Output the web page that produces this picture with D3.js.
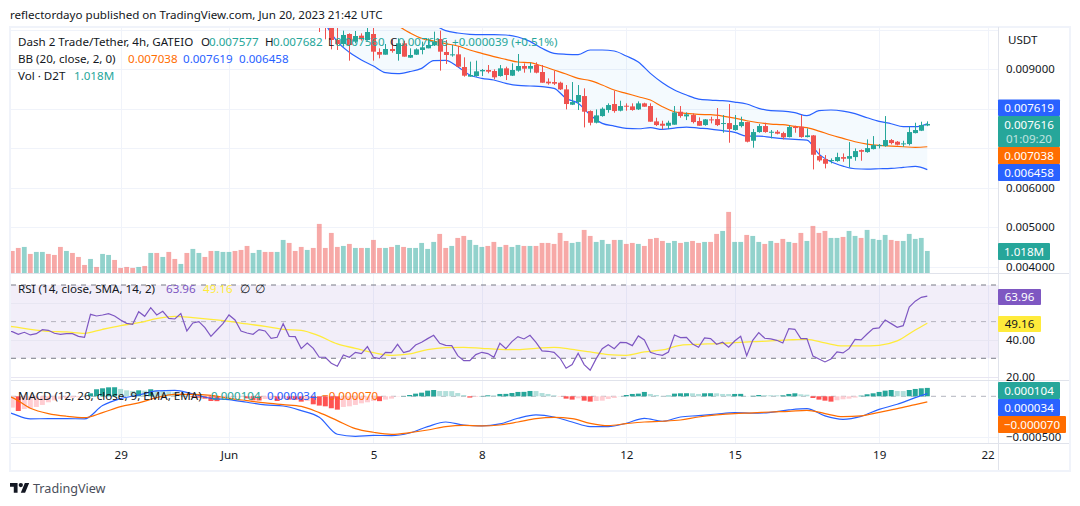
<!DOCTYPE html>
<html>
<head>
<meta charset="utf-8">
<script src="https://d3js.org/d3.v7.min.js"></script>
<style>
    html, body {margin: 0; padding: 0; background: #fff;}
    svg {display: block;}
    text {font-family: "Noto Sans", sans-serif; font-size: 11.6px; fill: #131722;}
</style>
</head>
<body>
<div id="chart-area"></div>
<script>
// prices are in millionths of USDT, volume in millions
let candleStart = 51;
let candleOpen = [10350,10300,10120,9743,9642,9895,9701,9853,9743,9895,9439,9371,9515,9388,9659,9295,9371,9490,9532,9608,
    9768,9439,9354,9380,9059,8814,8830,8949,8983,8957,8830,9025,8839,8966,9084,9016,9109,8932,8687,8678,
    8661,8492,8104,8171,8323,7943,7647,7816,7969,8121,7952,8078,8061,7985,8138,8070,7681,
    7622,7571,7597,7926,7808,7842,7690,7588,7732,7740,7622,7639,7462,7563,7664,7191,7411,7563,7394,7419,7385,7284,7546,7546,7284,
    7326,6802,6726,6676,6676,6777,6735,6777,6954,6904,6980,7064,7056,7208,7166,7107,7107,7385,7445,7577];
let candleHigh = [10450,10400,10200,10100,9980,9912,9971,9912,10064,10064,9532,9642,9743,9785,9726,9532,9532,9701,9785,9954,
    9980,9743,9616,9591,9304,9194,9219,9008,9109,9000,9109,9067,9152,9388,9152,9168,9177,9109,8771,8966,
    8687,8602,8678,8602,8518,7960,7985,8036,8138,8459,8205,8138,8138,8188,8154,8138,7774,
    7698,7698,8070,8070,7909,7884,7783,7740,7800,8019,7842,8121,7842,7800,7673,7487,7614,7647,7462,7462,7419,7588,7571,7842,7504,
    7335,6997,6828,6743,6887,6870,7157,6997,6971,7225,7309,7107,7816,7233,7183,7191,7546,7647,7673,7682];
let candleLow = [9946,9760,9506,9490,9574,9219,9659,9726,9726,9219,9278,9371,9422,9219,9321,9287,9363,9380,9532,9591,
    8966,9135,9321,9050,8814,8814,8814,8830,8898,8746,8814,8729,8830,8940,8915,8915,8898,8661,8611,8602,
    8476,7985,8095,7969,7529,7580,7630,7800,7901,7901,7935,7952,7952,7969,8053,7673,7563,
    7478,7487,7597,7774,7715,7630,7571,7571,7630,7563,7394,7140,7445,7529,7149,7014,7394,7394,7250,7352,7225,7276,7394,7267,7276,
    6464,6659,6490,6617,6659,6659,6515,6684,6684,6887,6971,6997,7039,7098,7073,7039,7073,7377,7436,7560];
let candleClose = [10300,10120,9743,9642,9870,9616,9844,9760,9946,9447,9371,9515,9464,9659,9321,9363,9506,9557,9616,9701,
    9447,9363,9380,9067,8839,8856,8949,8983,8940,8797,9025,8856,8983,9084,9016,9084,8915,8661,8645,8636,
    8492,8121,8171,8349,7926,7647,7833,8002,8095,7943,8070,8061,7969,8138,8053,7673,7588,
    7571,7647,7909,7816,7859,7664,7571,7732,7715,7588,7639,7487,7588,7664,7166,7411,7563,7411,7419,7369,7276,7538,7512,7284,7326,
    6836,6693,6608,6701,6777,6735,6802,6929,6912,7005,7081,7081,7208,7132,7090,7124,7411,7462,7588,7616];

let volumes = [1.018,1.155,1.201,.882,.973,.973,.882,.836,1.201,1.018,.927,.745,.380,.654,.289,.882,.836,.608,.243,.289,
    .243,.289,.334,.927,.927,.745,.973,.654,.426,.927,1.110,.927,.745,1.018,1.018,.973,.973,1.018,1.064,1.246,
    .927,1.064,.973,.973,.973,1.520,1.383,1.018,1.201,1.064,1.155,2.250,1.155,1.839,1.201,
    1.246,1.338,1.155,1.155,1.155,1.520,1.155,1.155,1.201,1.292,1.201,1.155,1.155,1.383,1.110,1.429,1.794,1.155,1.246,1.611,
    1.702,1.520,1.292,1.201,1.246,1.429,1.201,1.292,1.201,1.292,1.246,1.246,1.246,1.383,1.383,1.338,1.839,1.474,1.383,1.429,
    1.976,1.702,1.429,1.520,1.338,1.520,1.520,1.338,1.383,1.338,1.246,1.566,1.611,
    1.474,1.383,1.474,1.383,1.429,1.474,1.383,1.429,1.429,1.794,1.930,2.797,1.429,1.429,1.748,1.702,1.429,1.338,1.474,1.383,
    1.566,1.429,1.383,1.839,1.474,2.158,1.839,1.930,1.611,1.611,1.657,1.930,1.702,1.611,1.976,1.566,1.520,1.748,1.520,1.474,
    1.474,1.794,1.566,1.611,1.018];
// u = up bar, d = down bar, ten bars per chunk
let volumeDirs = ["dduduudddu", "ddduduuddd", "dudududdud", "uudduuuddd", "uudduudddu",
    "dddddududu", "ddududuuuu", "uddudduuud", "duduududdd", "ddduudduuu",
    "dudduddddu", "ududduddud", "uuduududdu", "dduddduudu", "uduuuudduu", "uuu"].join("");

// Bollinger bands, one reading every second bar from bar 52
let bbBars = d3.range(52, 153, 2);
let bbUpper = [11400,11300,11200,11100,11000,10900,10750,10600,10350,10140,9980,9920,9887,9878,9878,9870,9819,9709,9532,9405,
    9380,9371,9490,9490,9464,9337,9185,8898,8661,8475,8349,8247,8222,8205,8171,8121,8011,7952,7943,7901,
    7825,7952,7969,7943,7876,7774,7681,7622,7546,7546,7619];
let bbBasis = [10800,10700,10600,10500,10400,10250,10106,9929,9785,9718,9650,9591,9490,9405,9321,9253,9185,9168,9084,8983,
    8881,8771,8712,8602,8475,8391,8306,8222,8053,7926,7884,7859,7850,7816,7766,7698,7647,7614,7597,7554,
    7521,7436,7335,7250,7166,7107,7073,7056,7039,7022,7038];
let bbLower = [10150,9701,9430,9236,9084,8915,8890,8940,9025,9219,9228,9067,8856,8771,8729,8645,8594,8577,8560,8518,
    8264,8138,7842,7631,7563,7504,7495,7521,7478,7512,7538,7512,7487,7445,7402,7309,7309,7276,7242,7225,
    7208,6853,6659,6549,6481,6473,6481,6490,6515,6540,6458];

// RSI for every bar, starting one bar left of the pane
let rsiValues = [44.9,44.54,43.09,44.18,42.73,43.45,45.63,45.27,43.64,43.09,43.45,43.45,42.0,41.45,54.0,53.09,53.63,54.36,53.09,50.91,49.09,
    48.54,55.45,52.91,57.63,53.63,55.63,51.82,51.45,54.36,44.91,49.27,50.0,46.73,42.0,45.45,48.91,53.63,50.91,44.91,43.82,
    43.09,45.63,44.91,40.91,41.45,48.91,42.0,41.82,35.27,38.36,35.45,30.55,30.55,27.27,25.64,
    31.82,30.55,33.27,32.55,36.36,30.55,29.82,33.27,33.09,37.64,33.09,34.0,37.27,38.73,40.73,42.55,38.18,37.09,36.91,31.45,
    28.73,28.73,32.0,33.27,32.55,30.55,38.18,35.27,39.09,41.82,40.55,42.55,38.73,34.0,33.82,33.27,30.0,24.55,26.55,32.73,
    26.55,23.45,29.82,35.27,37.45,35.27,38.73,38.55,36.91,42.18,40.0,33.27,32.18,31.64,33.45,
    42.73,41.27,41.45,37.82,36.0,41.09,40.73,37.64,38.73,36.0,39.45,42.0,31.45,39.82,44.0,40.91,40.55,39.82,38.36,46.18,
    45.82,40.73,40.73,31.27,29.64,28.0,29.64,33.45,32.91,35.27,40.36,40.0,43.27,46.18,46.55,50.91,48.91,46.91,47.82,58.0,
    61.18,63.27,63.96];

// RSI average and the two MACD lines are read every third bar
let slowBars = [-1].concat(d3.range(0, 151, 3), [152]);
let rsiAverage = [47.6,47.27,45.82,44.73,44.36,43.64,45.82,47.82,49.45,51.64,52.91,52.18,51.27,50.18,48.73,47.45,45.82,45.27,42.18,37.82,
    35.45,33.09,31.64,32.36,34.73,35.82,36.0,35.45,34.91,34.73,35.45,36.0,34.91,33.45,32.0,31.64,33.45,34.55,
    37.09,37.64,38.0,38.55,39.09,39.45,40.0,40.36,38.36,36.73,36.73,37.09,39.45,45.45,49.16];
let macdLine = [-190,-214,-280,-276,-276,-280,-115,-29,16,66,74,29,-25,-41,-74,-107,-120,-177,-260,-470,
    -495,-483,-487,-454,-375,-318,-355,-367,-342,-272,-231,-256,-318,-375,-375,-334,-272,-309,
    -256,-239,-219,-202,-210,-198,-169,-153,-243,-285,-248,-161,-99,-16,34];
let macdSignal = [8,-16,-148,-214,-247,-264,-202,-128,-82,-16,25,25,12,-25,-54,-82,-103,-124,-202,-301,
    -400,-445,-470,-450,-417,-375,-359,-367,-355,-318,-276,-260,-276,-334,-363,-338,-318,-309,
    -293,-256,-231,-214,-206,-194,-186,-173,-214,-252,-243,-198,-153,-103,-70];
let macdHist = [-140,-182,-157,-149,-132,-107,-74,-50,-33,-25,-17,-12,-4,37,87,99,111,112,91,74,
    66,74,70,87,74,66,58,50,33,8,-8,-17,-29,-58,-60,-33,-17,-12,-10,-25,
    -50,-52,-33,-30,-58,-33,-41,-42,-66,-58,-99,-115,-124,-148,-165,
    -132,-124,-107,-87,-74,-58,-60,-41,-29,-4,4,16,33,45,70,78,66,65,64,41,
    16,-16,-8,4,12,11,29,30,41,54,55,66,65,41,29,12,-2,-29,-41,-25,
    -54,-66,-58,-54,-33,-21,1,16,29,33,54,29,16,4,8,
    33,37,38,37,29,37,38,37,29,28,29,30,2,6,16,14,13,12,12,29,
    37,25,20,-21,-41,-54,-66,-49,-37,-29,-16,8,25,37,54,70,78,66,65,78,
    91,99,104];

let dateBars = [18, 36, 60, 78, 102, 120, 144, 162];
let dateLabels = ["29", "Jun", "5", "8", "12", "15", "19", "22"];
let priceGrid = [10000, 9000, 8000, 7000, 6000, 5000, 4000];
let priceTicks = [9000, 6000, 5000, 4000];
let rsiGrid = [60, 40, 20];
let rsiTicks = [40, 20];
let macdTicks = [-500];

let svg = d3.select("#chart-area").append("svg")
    .attr("width", 1080)
    .attr("height", 506);

let up = "#26a69a", down = "#ef5350", blue = "#2962ff", orange = "#ff6d00", purple = "#7e57c2", yellow = "#ffeb3b";
let ink = "#131722";
let gridColor = "#f0f3fa", lineColor = "#e0e3eb";
let paneLeft = 11, paneRight = 998.5;

let x = d3.scaleLinear().domain([0, 152]).range([12.26, 927.3]);
let priceY = d3.scaleLinear().domain([4000, 10000]).range([266.7, 29.85]);
let volY = d3.scaleLinear().domain([0, 3]).range([273.3, 207.45]);
let rsiY = d3.scaleLinear().domain([20, 70]).range([376.6, 285]);
let macdY = d3.scaleLinear().domain([-500, 0]).range([436.7, 396.3]);

function addClip(id, top, bottom) {
    svg.append("clipPath").attr("id", id).append("rect")
        .attr("x", paneLeft).attr("y", top)
        .attr("width", paneRight - paneLeft).attr("height", bottom - top);
}
addClip("main-clip", 28, 273);
addClip("rsi-clip", 274, 380);
addClip("macd-clip", 381, 443);

// grid
svg.append("g").selectAll("line").data(dateBars).enter().append("line")
    .attr("x1", d => Math.round(x(d)) + 0.5).attr("x2", d => Math.round(x(d)) + 0.5)
    .attr("y1", 27).attr("y2", 443)
    .attr("stroke", gridColor);

function hGrid(values, scale) {
    svg.append("g").selectAll("line").data(values).enter().append("line")
        .attr("x1", paneLeft).attr("x2", paneRight)
        .attr("y1", d => Math.round(scale(d)) + 0.5).attr("y2", d => Math.round(scale(d)) + 0.5)
        .attr("stroke", gridColor);
}
hGrid(priceGrid, priceY);
hGrid(macdTicks, macdY);

// rsi band goes under its grid
svg.append("rect")
    .attr("x", paneLeft).attr("width", paneRight - paneLeft)
    .attr("y", rsiY(70)).attr("height", rsiY(30) - rsiY(70))
    .attr("fill", purple).attr("opacity", 0.1);
svg.append("g").selectAll("line").data(rsiGrid).enter().append("line")
    .attr("x1", paneLeft).attr("x2", paneRight)
    .attr("y1", d => Math.round(rsiY(d)) + 0.5).attr("y2", d => Math.round(rsiY(d)) + 0.5)
    .attr("stroke", "#e8e6f2");

// volume
let volumeData = volumes.map((v, i) => ({i: i, v: v, up: volumeDirs[i] === "u"}));
svg.append("g").attr("clip-path", "url(#main-clip)")
    .selectAll("rect").data(volumeData).enter().append("rect")
    .attr("x", d => x(d.i) - 2.4)
    .attr("width", 4.8)
    .attr("y", d => volY(d.v))
    .attr("height", d => volY(0) - volY(d.v))
    .attr("fill", d => d.up ? up : down)
    .attr("opacity", 0.5);

// bollinger bands
let main = svg.append("g").attr("clip-path", "url(#main-clip)");
let bbData = bbBars.map((b, i) => ({b: b, upper: bbUpper[i], basis: bbBasis[i], lower: bbLower[i]}));

main.append("path")
    .attr("d", d3.area().curve(d3.curveMonotoneX)
        .x(d => x(d.b)).y0(d => priceY(d.lower)).y1(d => priceY(d.upper))(bbData))
    .attr("fill", "#2196f3").attr("opacity", 0.05);

function bbLine(key, color) {
    main.append("path")
        .attr("d", d3.line().curve(d3.curveMonotoneX).x(d => x(d.b)).y(d => priceY(d[key]))(bbData))
        .attr("fill", "none").attr("stroke", color).attr("stroke-width", 1.2);
}
bbLine("upper", blue);
bbLine("lower", blue);
bbLine("basis", orange);

// candles
let candles = candleOpen.map((o, i) => ({
    i: i + candleStart, o: o, h: candleHigh[i], l: candleLow[i], c: candleClose[i]
}));
main.append("g").selectAll("line").data(candles).enter().append("line")
    .attr("x1", d => Math.round(x(d.i)) + 0.5).attr("x2", d => Math.round(x(d.i)) + 0.5)
    .attr("y1", d => priceY(d.h)).attr("y2", d => priceY(d.l))
    .attr("stroke", d => d.c >= d.o ? up : down);
main.append("g").selectAll("rect").data(candles).enter().append("rect")
    .attr("x", d => Math.round(x(d.i)) - 2)
    .attr("width", 5)
    .attr("y", d => priceY(Math.max(d.o, d.c)))
    .attr("height", d => Math.max(1, Math.abs(priceY(d.o) - priceY(d.c))))
    .attr("fill", d => d.c >= d.o ? up : down);

// rsi
function dashed(scale, value, color) {
    svg.append("line")
        .attr("x1", paneLeft).attr("x2", paneRight)
        .attr("y1", scale(value)).attr("y2", scale(value))
        .attr("stroke", color)
        .attr("stroke-dasharray", "5 5");
}
dashed(rsiY, 70, "#787b86");
dashed(rsiY, 50, "#b4b3bd");
dashed(rsiY, 30, "#787b86");
let rsiPane = svg.append("g").attr("clip-path", "url(#rsi-clip)");
rsiPane.append("path")
    .attr("d", d3.line().curve(d3.curveMonotoneX).x((d, i) => x(slowBars[i])).y(d => rsiY(d))(rsiAverage))
    .attr("fill", "none").attr("stroke", yellow).attr("stroke-width", 1.3);
rsiPane.append("path")
    .attr("d", d3.line().x((d, i) => x(i - 1)).y(d => rsiY(d))(rsiValues))
    .attr("fill", "none").attr("stroke", purple).attr("stroke-width", 1.2);

// macd
dashed(macdY, 0, "#b2b5be");
let macdPane = svg.append("g").attr("clip-path", "url(#macd-clip)");
function histColor(d, i) {
    let prev = i > 0 ? macdHist[i - 1] : d - 1;
    if (d >= 0) return d >= prev ? up : "#b2dfdb";
    return d >= prev ? "#ffcdd2" : "#ff5252";
}
macdPane.append("g").selectAll("rect").data(macdHist).enter().append("rect")
    .attr("x", (d, i) => x(i) - 2.5)
    .attr("width", 5)
    .attr("y", d => Math.min(macdY(d), macdY(0)))
    .attr("height", d => Math.abs(macdY(d) - macdY(0)))
    .attr("fill", histColor);
macdPane.append("path")
    .attr("d", d3.line().curve(d3.curveMonotoneX).x((d, i) => x(slowBars[i])).y(d => macdY(d))(macdLine))
    .attr("fill", "none").attr("stroke", blue).attr("stroke-width", 1.2);
macdPane.append("path")
    .attr("d", d3.line().curve(d3.curveMonotoneX).x((d, i) => x(slowBars[i])).y(d => macdY(d))(macdSignal))
    .attr("fill", "none").attr("stroke", orange).attr("stroke-width", 1.2);

// frame and separators
svg.append("rect")
    .attr("x", 10).attr("y", 27).attr("width", 1060).attr("height", 444)
    .attr("fill", "none").attr("stroke", gridColor).attr("stroke-width", 2);
function separator(x1, y1, x2, y2) {
    svg.append("line").attr("x1", x1).attr("y1", y1).attr("x2", x2).attr("y2", y2)
        .attr("stroke", lineColor);
}
separator(11, 273.5, 1069, 273.5);
separator(11, 380.5, 1069, 380.5);
separator(11, 443.5, 1069, 443.5);
separator(998.5, 27, 998.5, 470);

// axes
function rightAxis(scale, ticks, format) {
    let g = svg.append("g").attr("transform", "translate(1000,0)")
        .call(d3.axisRight(scale).tickValues(ticks).tickFormat(format).tickSize(0).tickPadding(6));
    g.select(".domain").remove();
    g.selectAll("text").style("font-family", null).style("font-size", "11.4px").attr("fill", null);
}
rightAxis(priceY, priceTicks, d => (d / 1e6).toFixed(6));
rightAxis(rsiY, rsiTicks, d => d.toFixed(2));
rightAxis(macdY, macdTicks, d => "\u2212" + Math.abs(d / 1e6).toFixed(6));

let xAxisGroup = svg.append("g").attr("transform", "translate(0,443)")
    .call(d3.axisBottom(x).tickValues(dateBars).tickFormat((d, i) => dateLabels[i]).tickSize(0).tickPadding(8));
xAxisGroup.select(".domain").remove();
xAxisGroup.selectAll("text").style("font-family", null).style("font-size", "11.6px").attr("fill", null);

// legends, each part gets its own start so the columns line up
function legend(py, parts) {
    parts.forEach(function(p) {
        svg.append("text").attr("x", p[2]).attr("y", py).style("fill", p[1]).text(p[0]);
    });
}
svg.append("text").attr("x", 10).attr("y", 19)
    .text("reflectordayo published on TradingView.com, Jun 20, 2023 21:42 UTC");
legend(46, [["Dash 2 Trade/Tether, 4h, GATEIO", ink, 18], ["O", ink, 201], ["0.007577", up, 209], ["H", ink, 265], ["0.007682", up, 273],
    ["L", ink, 328], ["0.007560", up, 335], ["C", ink, 390], ["0.007616", up, 398], ["+0.000039 (+0.51%)", up, 452]]);
legend(63, [["BB (20, close, 2, 0)", ink, 18], ["0.007038", orange, 128], ["0.007619", blue, 183], ["0.006458", blue, 239]]);
legend(80, [["Vol \u00b7 D2T", ink, 18], ["1.018M", up, 74]]);
legend(293, [["RSI (14, close, SMA, 14, 2)", ink, 18], ["63.96", purple, 166], ["49.16", yellow, 203], ["\u2205", ink, 240], ["\u2205", ink, 255]]);
legend(400, [["MACD (12, 26, close, 9, EMA, EMA)", ink, 18], ["0.000104", up, 211], ["0.000034", blue, 267], ["\u22120.000070", orange, 322]]);

// tags on the price axis
function tag(top, bottom, right, fill, label, color) {
    svg.append("rect")
        .attr("x", 998).attr("y", top).attr("width", right - 998).attr("height", bottom - top)
        .attr("fill", fill).attr("rx", 1);
    svg.append("text")
        .attr("x", (998 + right) / 2).attr("y", (top + bottom) / 2 + 4)
        .attr("text-anchor", "middle")
        .style("fill", color)
        .text(label);
}
svg.append("text").attr("x", 1008).attr("y", 44).text("USDT");
tag(99.5, 116, 1060, blue, "0.007619", "#fff");
tag(116, 147, 1060, up, "", "#fff");
svg.append("text").attr("x", 1029).attr("y", 129).attr("text-anchor", "middle").style("fill", "#fff").text("0.007616");
svg.append("text").attr("x", 1029).attr("y", 143).attr("text-anchor", "middle").style("fill", "#fff").style("opacity", 0.7).text("01:09:20");
tag(147, 164, 1060, orange, "0.007038", "#fff");
tag(164, 181, 1060, blue, "0.006458", "#fff");
tag(243, 260, 1050, up, "1.018M", "#fff");
tag(289, 305, 1041, purple, "63.96", "#fff");
tag(316, 332, 1041, yellow, "49.16", ink);
tag(382, 399, 1060, up, "0.000104", "#fff");
tag(399, 416, 1060, blue, "0.000034", "#fff");
tag(416, 433, 1066, orange, "\u22120.000070", "#fff");

// logo
let logo = svg.append("g").attr("transform", "translate(10,480.8) scale(0.54)").attr("fill", ink);
logo.append("path").attr("d", "M14 22H7V11H0V4h14v18zM28 22h-8l7.5-18h8L28 22z");
logo.append("circle").attr("cx", 20).attr("cy", 8).attr("r", 4);
svg.append("text").attr("x", 33).attr("y", 493).style("font-size", "12.6px").style("fill", "#4a4e5a").text("TradingView");
</script>
</body>
</html>
